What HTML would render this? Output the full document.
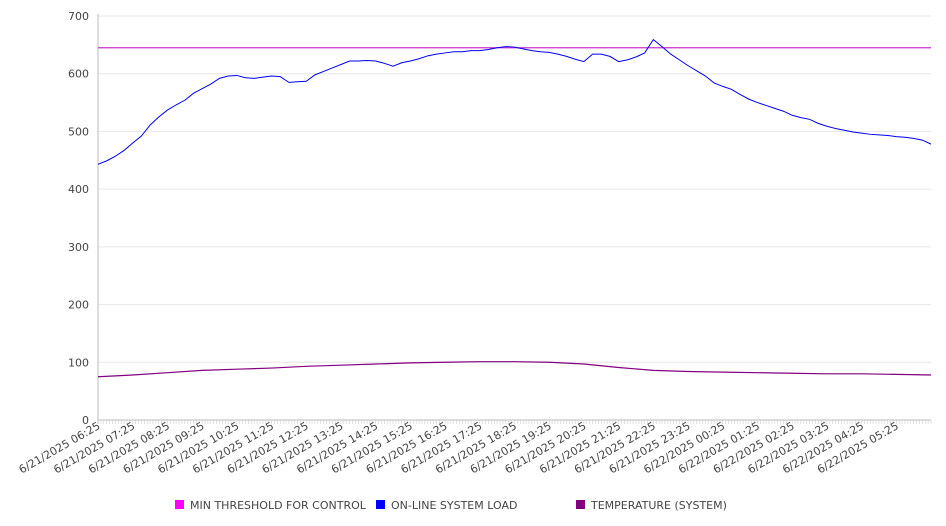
<!DOCTYPE html>
<html><head><meta charset="utf-8"><style>
html,body{margin:0;padding:0;background:#fff;}
svg{display:block;font-family:"DejaVu Sans","Liberation Sans",sans-serif;}
</style></head><body>
<svg id="c" width="946" height="526"></svg>
<script>
const loadValues=[443,449,457,467,480,492,511,525,537,546,554,566,574,582,592,596,597,593,592,594,596,595,585,586,587,598,604,610,616,622,622,623,622,618,613,619,622,626,631,634,636,638,638,640,640,642,645,647,646,643,640,638,637,634,630,625,621,634,634,630,621,624,629,636,659,647,634,624,614,605,596,584,578,573,564,556,550,545,540,535,528,524,521,514,509,505,502,499,497,495,494,493,491,490,488,485,478];
const tempValues=[75,78,82,86,88,90,93,95,97,99,100,101,101,100,97,91,86,84,83,82,81,80,80,79,78];
const thresholdValue=645;
const yTicks=[0,100,200,300,400,500,600,700];
const xLabels=["6/21/2025 06:25","6/21/2025 07:25","6/21/2025 08:25","6/21/2025 09:25","6/21/2025 10:25","6/21/2025 11:25","6/21/2025 12:25","6/21/2025 13:25","6/21/2025 14:25","6/21/2025 15:25","6/21/2025 16:25","6/21/2025 17:25","6/21/2025 18:25","6/21/2025 19:25","6/21/2025 20:25","6/21/2025 21:25","6/21/2025 22:25","6/21/2025 23:25","6/22/2025 00:25","6/22/2025 01:25","6/22/2025 02:25","6/22/2025 03:25","6/22/2025 04:25","6/22/2025 05:25"];
const legendNames=["MIN THRESHOLD FOR CONTROL","ON-LINE SYSTEM LOAD","TEMPERATURE (SYSTEM)"];
const legendColors=["#ff00ff","#0000ff","#800080"];

const svg=document.getElementById('c');
const NS='http://www.w3.org/2000/svg';
const L=98,R=931,T=16,B=420;
const hours=24;
const xH=h=>L+(R-L)*h/hours;
const y=v=>B-(B-T)*v/700;
function mk(t,a,p){const e=document.createElementNS(NS,t);for(const k in a)e.setAttribute(k,a[k]);(p||svg).appendChild(e);return e;}

yTicks.forEach(v=>{
  const g=mk('line',{x1:L,x2:R,y1:y(v),y2:y(v),stroke:v===0?'#bbb':'#e6e6e6','stroke-width':1});
  
  
  const t=mk('text',{x:L-9,y:y(v)+4,'text-anchor':'end','font-size':11,fill:'#444'});
  t.textContent=v;
  
  
});
const ax=mk('line',{x1:L,x2:L,y1:T-2,y2:B+4,stroke:'#bbb'});


for(let i=0;i<=288;i++){
  const x=L+(R-L)*i/288;
  const tk=mk('line',{x1:x,x2:x,y1:B,y2:B+4,stroke:'#ccc','stroke-width':0.6});
  
  
}
xLabels.forEach((s,i)=>{
  const x=xH(i)+3,yy=428;
  const t=mk('text',{x:x,y:yy,'text-anchor':'end','font-size':11,fill:'#444',transform:`rotate(-30 ${x} ${yy})`});
  t.textContent=s;
  
  
});

const th=mk('line',{x1:L,x2:R,y1:y(thresholdValue),y2:y(thresholdValue),stroke:'#cc33cc','stroke-width':1.2});



const tp=mk('polyline',{points:tempValues.map((v,i)=>xH(i*hours/(tempValues.length-1))+','+y(v)).join(' '),fill:'none',stroke:'#800080','stroke-width':1.2});



const lp=mk('polyline',{points:loadValues.map((v,i)=>xH(i*hours/(loadValues.length-1))+','+y(v)).join(' '),fill:'none',stroke:'#0000ee','stroke-width':1});



const lx=[175,376,576];
legendNames.forEach((n,i)=>{
  const r=mk('rect',{x:lx[i],y:500,width:9,height:9,fill:legendColors[i]});
  
  
  const t=mk('text',{x:lx[i]+15,y:509,'font-size':11,fill:'#444'});
  t.textContent=n;
  
  
});
</script>
</body></html>
